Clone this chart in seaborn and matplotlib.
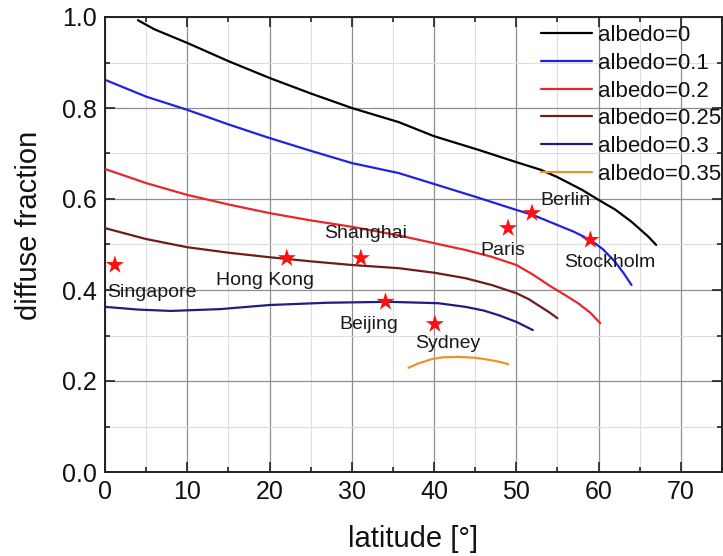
import matplotlib
matplotlib.use("Agg")
import matplotlib.pyplot as plt
from matplotlib.ticker import MultipleLocator, FormatStrFormatter
import numpy as np
import pandas as pd
import seaborn as sns

# Diffuse fraction vs latitude for several ground albedos
lat_a0 = [4, 6, 10, 15, 20, 25, 30, 35.7, 40, 45.4, 50, 53, 55, 58, 60, 62, 64, 66, 67]
fd_a0 = [0.993, 0.973, 0.943, 0.903, 0.866, 0.832, 0.800, 0.769, 0.738, 0.708, 0.681, 0.664,
         0.648, 0.620, 0.598, 0.577, 0.550, 0.518, 0.499]

lat_a01 = [0, 5, 10, 15, 20, 25, 30, 35.7, 40, 45, 50, 52, 54.7, 57, 59, 60.5, 62, 63, 64]
fd_a01 = [0.862, 0.825, 0.796, 0.764, 0.734, 0.706, 0.679, 0.657, 0.633, 0.605, 0.576, 0.565,
          0.545, 0.528, 0.510, 0.490, 0.462, 0.438, 0.411]

lat_a02 = [0, 5, 10, 15, 20, 25, 30, 35.7, 40, 43.8, 47, 50, 52, 54, 56, 57.5, 59, 60.2]
fd_a02 = [0.666, 0.635, 0.609, 0.588, 0.569, 0.553, 0.539, 0.520, 0.503, 0.488, 0.473, 0.455,
          0.434, 0.410, 0.388, 0.371, 0.350, 0.327]

lat_a025 = [0, 5, 10, 15, 20, 25, 30, 35.7, 40, 43.8, 47, 50, 51.5, 52.7, 54, 55]
fd_a025 = [0.536, 0.512, 0.494, 0.482, 0.472, 0.463, 0.455, 0.448, 0.438, 0.426, 0.411, 0.393,
           0.380, 0.366, 0.351, 0.338]

lat_a03 = [0, 4, 8, 14, 20, 27, 34.5, 40.5, 43.8, 46, 47.8, 50, 52]
fd_a03 = [0.363, 0.357, 0.354, 0.358, 0.367, 0.372, 0.374, 0.371, 0.363, 0.355, 0.345, 0.330, 0.312]

lat_a035 = [36.9, 38, 39.7, 41, 43, 45, 46.2, 48, 49]
fd_a035 = [0.229, 0.238, 0.248, 0.252, 0.253, 0.251, 0.248, 0.242, 0.237]

albedo_labels = ["albedo=0", "albedo=0.1", "albedo=0.2", "albedo=0.25", "albedo=0.3", "albedo=0.35"]
albedo_colors = ["#000000", "#2222dd", "#e8262b", "#6e1c1c", "#1e1e80", "#f0922b"]

# Measured sites
cities = ["Singapore", "Hong Kong", "Shanghai", "Beijing", "Sydney", "Paris", "Berlin", "Stockholm"]
city_lat = [1.2, 22.1, 31.1, 34.1, 40.1, 49.0, 51.9, 59.0]
city_fd = [0.455, 0.470, 0.470, 0.374, 0.325, 0.536, 0.569, 0.510]
# label offsets from each star, in pixels (right, up)
city_offsets = [(37, -28), (-22, -22), (5, 25), (-17, -23), (13, -19), (-5, -22), (33, 13), (19, -23)]

series = [(lat_a0, fd_a0), (lat_a01, fd_a01), (lat_a02, fd_a02),
          (lat_a025, fd_a025), (lat_a03, fd_a03), (lat_a035, fd_a035)]
curves = pd.concat(
    [pd.DataFrame({"latitude": x, "fd": y, "albedo": lab})
     for (x, y), lab in zip(series, albedo_labels)],
    ignore_index=True)
sites = pd.DataFrame({"latitude": city_lat, "fd": city_fd, "city": cities})

sns.set_style("ticks")
plt.rcParams["font.family"] = ["Liberation Sans", "DejaVu Sans"]
plt.rcParams["text.color"] = "#111111"
plt.rcParams["axes.labelcolor"] = "#111111"
plt.rcParams["xtick.color"] = "#111111"
plt.rcParams["ytick.color"] = "#111111"

fig = plt.figure(figsize=(7.23, 5.56), dpi=100)
ax = fig.add_axes([105 / 723, 84 / 556, 617 / 723, 455 / 556])

sns.lineplot(data=curves, x="latitude", y="fd", hue="albedo",
             hue_order=albedo_labels, palette=albedo_colors,
             sort=False, estimator=None, linewidth=1.6, ax=ax, zorder=3)
sns.scatterplot(data=sites, x="latitude", y="fd", marker="*", s=190,
                color="#ff1010", edgecolor="none", ax=ax, zorder=4, legend=False)

for name, x, y, (dx, dy) in zip(cities, city_lat, city_fd, city_offsets):
    ax.annotate(name, (x, y), xytext=(dx, dy), textcoords="offset pixels",
                ha="center", va="center", fontsize=14, color="#1a1a1a", zorder=5)

ax.set_xlim(0, 75)
ax.set_ylim(0, 1.0)
ax.xaxis.set_major_locator(MultipleLocator(10))
ax.xaxis.set_minor_locator(MultipleLocator(5))
ax.yaxis.set_major_locator(MultipleLocator(0.2))
ax.yaxis.set_minor_locator(MultipleLocator(0.1))
ax.yaxis.set_major_formatter(FormatStrFormatter("%.1f"))

ax.grid(which="major", color="#8f8f8f", linewidth=0.9, zorder=0)
ax.grid(which="minor", color="#dedede", linewidth=0.8, zorder=0)
ax.set_axisbelow(True)

ax.tick_params(which="both", direction="in", top=True, right=True, width=1.2, color="#222222")
ax.tick_params(which="major", length=7, labelsize=18, pad=6)
ax.tick_params(which="minor", length=3.5)
for s in ax.spines.values():
    s.set_linewidth(1.4)
    s.set_color("#222222")

ax.set_xlabel("latitude [°]", fontsize=21, labelpad=15)
ax.set_ylabel("diffuse fraction", fontsize=21)
ax.yaxis.set_label_coords(-0.1, 0.543)

handles, labels = ax.get_legend_handles_labels()
leg = ax.legend(handles, labels, loc="upper left", bbox_to_anchor=(0.707, 0.982),
                frameon=False, fontsize=16, handlelength=2.3, handletextpad=0.25,
                labelspacing=0.3, borderpad=0, borderaxespad=0)
for ln in leg.get_lines():
    ln.set_linewidth(1.6)

fig.savefig("out.png", dpi=100)
